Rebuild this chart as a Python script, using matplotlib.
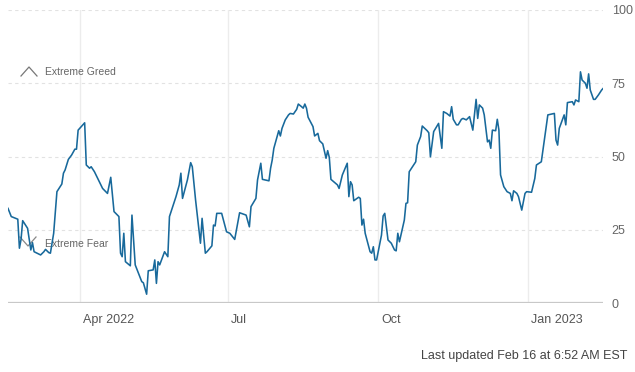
import matplotlib
matplotlib.use("Agg")
import matplotlib.pyplot as plt
import matplotlib.transforms as mtrans
import pandas as pd

# Fear & Greed index (days after 2022-02-16, value)
start = pd.Timestamp("2022-02-16")
days = [0, 2, 6, 7, 8, 9, 12, 14, 15, 16, 20, 22, 23, 25, 26, 28, 30, 33, 34, 35,
        37, 39, 41, 42, 43, 47, 48, 50, 51, 53, 55, 56, 58, 61, 63, 65, 68, 69, 70, 71,
        72, 75, 76, 78, 82, 83, 85, 86, 89, 90, 91, 92, 93, 96, 98, 99, 103, 105, 106, 107,
        110, 112, 113, 115, 118, 119, 121, 122, 125, 126, 127, 128, 131, 134, 136, 139, 142, 146, 148, 149,
        152, 153, 155, 156, 160, 161, 162, 163, 166, 167, 168, 170, 172, 173, 175, 177, 178, 180, 181, 182,
        183, 184, 187, 188, 190, 191, 193, 195, 196, 197, 198, 202, 203, 205, 208, 209, 210, 211, 212, 215,
        216, 217, 218, 219, 222, 223, 224, 225, 226, 229, 230, 231, 233, 235, 237, 238, 239, 240, 243, 244,
        245, 246, 250, 251, 253, 254, 257, 258, 259, 261, 264, 266, 267, 269, 271, 272, 273, 275, 276, 278,
        279, 281, 283, 285, 287, 288, 289, 291, 292, 294, 295, 296, 297, 299, 300, 301, 302, 304, 306, 308,
        309, 310, 312, 313, 315, 317, 318, 321, 323, 324, 327, 329, 331, 335, 336, 337, 338, 341, 342, 343,
        346, 347, 348, 350, 351, 352, 354, 355, 356, 357, 359, 360, 362, 364, 365]
values = [32.3, 29.5, 28.6, 18.7, 21.7, 28.1, 25.5, 18.1, 20.6, 17.5, 16.4, 17.5, 18.3, 17.2, 17.0, 23.8, 38.0, 40.6, 44.3, 45.4,
          49.0, 50.5, 52.5, 52.5, 59.0, 61.5, 47.1, 46.0, 46.5, 44.8, 42.5, 41.4, 39.1, 37.4, 42.9, 31.2, 29.5, 17.0, 15.8, 23.8,
          14.1, 12.7, 30.0, 13.0, 7.3, 6.9, 3.0, 11.0, 11.3, 14.7, 6.7, 14.1, 13.0, 17.5, 15.8, 29.5, 36.3, 40.3, 44.3, 35.7,
          42.0, 47.9, 46.5, 35.2, 20.4, 28.9, 17.0, 17.5, 19.5, 26.6, 26.3, 30.6, 30.6, 24.3, 23.8, 21.7, 30.8, 30.0, 26.0, 32.9,
          35.7, 42.0, 47.7, 42.2, 41.7, 46.0, 48.8, 52.8, 58.8, 57.0, 59.6, 62.5, 64.2, 64.7, 64.5, 66.1, 67.9, 67.0, 66.5, 67.9,
          66.5, 63.4, 60.2, 57.0, 57.9, 55.4, 54.3, 49.4, 52.0, 49.7, 42.2, 40.3, 39.1, 43.7, 47.7, 36.3, 41.4, 40.3, 34.9, 36.1,
          35.7, 26.6, 28.6, 23.8, 17.5, 17.0, 19.2, 14.7, 14.7, 23.2, 29.7, 30.6, 21.5, 20.4, 18.1, 17.8, 23.8, 20.9, 28.3, 34.0,
          34.2, 44.8, 48.2, 53.9, 56.8, 60.4, 58.8, 58.1, 49.9, 58.5, 61.3, 52.8, 65.3, 64.7, 63.8, 67.0, 62.7, 60.8, 60.8, 62.7,
          63.0, 62.5, 63.6, 59.0, 69.5, 63.0, 67.6, 66.5, 64.2, 55.0, 55.6, 52.8, 59.0, 58.8, 62.7, 59.0, 43.7, 39.7, 38.0, 37.4,
          34.9, 38.3, 37.4, 36.3, 31.7, 37.4, 38.0, 37.8, 42.5, 47.1, 48.2, 56.2, 64.2, 64.7, 55.6, 53.9, 59.6, 64.2, 60.8, 68.4,
          68.7, 67.6, 69.3, 68.7, 78.9, 76.1, 75.0, 73.3, 78.2, 72.7, 69.5, 69.5, 71.0, 72.7, 73.3]

month_ticks = ["2022-04-01", "2022-07-01", "2022-10-01", "2023-01-01"]
month_labels = ["Apr 2022", "Jul", "Oct", "Jan 2023"]
y_ticks = [0, 25, 50, 75, 100]

dates = start + pd.to_timedelta(days, unit="D")

plt.rcParams["font.family"] = ["Liberation Sans Narrow", "Liberation Sans", "DejaVu Sans"]

fig = plt.figure(figsize=(6.35, 3.72), dpi=100)
ax = fig.add_axes([8 / 635, 69 / 372, 595.3 / 635, 293 / 372])

ax.plot(dates, values, color="#18699b", lw=1.15, zorder=3)

ax.set_xlim(start, start + pd.Timedelta(days=365))
ax.set_ylim(0, 100)

for s in ax.spines.values():
    s.set_visible(False)

# dashed horizontal grid, solid baseline
for v in y_ticks[1:]:
    ax.axhline(v, color="#e2e2e2", lw=0.8, ls=(0, (3, 3)), zorder=1)
ax.axhline(0, color="#c8c8c8", lw=1.6, zorder=2)

# vertical month lines
for m in month_ticks:
    ax.axvline(pd.Timestamp(m), color="#ececec", lw=1.0, zorder=1)

# month labels sit just right of their gridline
ax.set_xticks([pd.Timestamp(m) for m in month_ticks])
ax.set_xticklabels(month_labels, ha="left", fontsize=9, color="#555555")
ax.tick_params(axis="x", length=0, pad=8)
offset = mtrans.ScaledTranslation(3 / 100, 0, fig.dpi_scale_trans)
for lbl in ax.get_xticklabels():
    lbl.set_transform(lbl.get_transform() + offset)

ax.yaxis.tick_right()
ax.set_yticks(y_ticks)
ax.set_yticklabels([str(v) for v in y_ticks], fontsize=9, color="#666666")
ax.tick_params(axis="y", length=0, pad=6)

# Extreme Greed / Extreme Fear chevrons + labels
ax.plot([13 / 595.3, 21 / 595.3, 29 / 595.3], [(303 - 76) / 293, (303 - 67) / 293, (303 - 76) / 293],
        transform=ax.transAxes, color="#777777", lw=0.9, clip_on=False)
ax.text(37 / 595.3, (303 - 72) / 293, "Extreme Greed", transform=ax.transAxes,
        fontsize=7.5, color="#666666", va="center", ha="left")
ax.plot([12 / 595.3, 20 / 595.3, 28 / 595.3], [(303 - 237) / 293, (303 - 246) / 293, (303 - 237) / 293],
        transform=ax.transAxes, color="#888888", lw=0.9, clip_on=False, zorder=2)
ax.text(37 / 595.3, (303 - 244) / 293, "Extreme Fear", transform=ax.transAxes,
        fontsize=7.5, color="#666666", va="center", ha="left", zorder=2)

fig.text(627 / 635, 1 - 356 / 372, "Last updated Feb 16 at 6:52 AM EST",
         ha="right", va="center", fontsize=9, color="#444444")

fig.savefig("out.png", dpi=100)
